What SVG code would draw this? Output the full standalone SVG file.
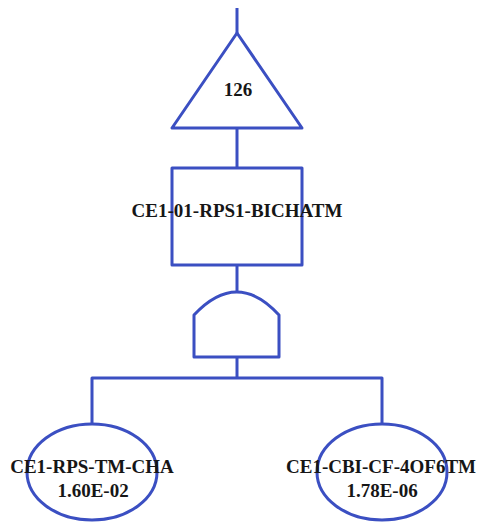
<svg xmlns="http://www.w3.org/2000/svg" width="479" height="525" viewBox="0 0 479 525">
  <style>
    .ln { fill: none; stroke: #3b4fc2; stroke-width: 3; stroke-linejoin: round; }
    .shape { fill: #ffffff; stroke: #3b4fc2; stroke-width: 3; stroke-linejoin: round; }
    .lbl { font-family: "Liberation Serif", "Times New Roman", serif; font-weight: bold; font-size: 19px; fill: #161616; text-anchor: middle; }
  </style>
  <rect width="479" height="525" fill="#ffffff"/>

  <g id="connectors">
    <line class="ln" x1="237" y1="8" x2="237" y2="33"/>
    <line class="ln" x1="237" y1="128" x2="237" y2="168"/>
    <line class="ln" x1="237" y1="265" x2="237" y2="292"/>
    <line class="ln" x1="237" y1="357" x2="237" y2="378"/>
    <polyline class="ln" points="92,424 92,378 382,378 382,424"/>
  </g>

  <g id="transfer-126">
    <polygon class="shape" points="237,33 172,128 302,128"/>
    <text class="lbl" x="238" y="96">126</text>
  </g>

  <g id="event-CE1-01-RPS1-BICHATM">
    <rect class="shape" x="172" y="168" width="130" height="97"/>
    <text class="lbl" x="237" y="217">CE1-01-RPS1-BICHATM</text>
  </g>

  <g id="and-gate">
    <path class="shape" d="M194,357 L194,315 Q237,269 279,315 L279,357 Z"/>
  </g>

  <g id="basic-CE1-RPS-TM-CHA">
    <ellipse class="shape" cx="92" cy="472" rx="65" ry="48"/>
    <text class="lbl" x="92" y="473">CE1-RPS-TM-CHA</text>
    <text class="lbl" x="93" y="497">1.60E-02</text>
  </g>

  <g id="basic-CE1-CBI-CF-4OF6TM">
    <ellipse class="shape" cx="382" cy="472" rx="65" ry="48"/>
    <text class="lbl" x="381" y="473">CE1-CBI-CF-4OF6TM</text>
    <text class="lbl" x="382" y="497">1.78E-06</text>
  </g>
</svg>
